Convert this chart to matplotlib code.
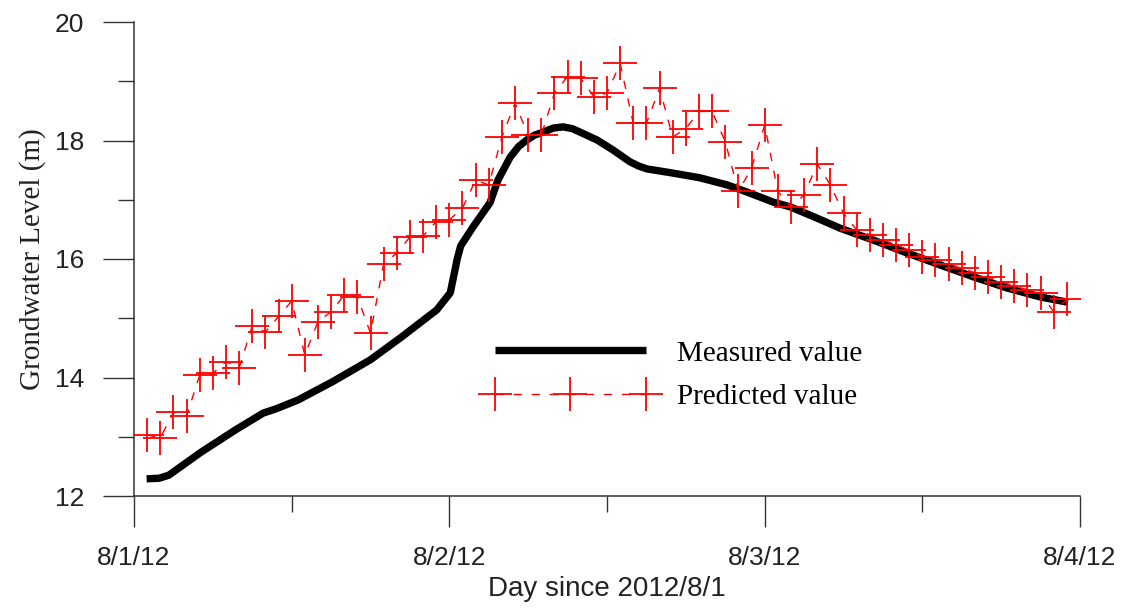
import numpy as np
import matplotlib
matplotlib.use("Agg")
import matplotlib.pyplot as plt
from matplotlib.ticker import MultipleLocator, FixedLocator

# Measured groundwater level (day since 8/1, metres)
measuredDays = [0.04, 0.08, 0.11, 0.21, 0.32, 0.41, 0.45, 0.52, 0.63, 0.75, 0.85, 0.96,
                1.003, 1.025, 1.036, 1.075, 1.129, 1.154, 1.193, 1.22, 1.246, 1.27, 1.297,
                1.33, 1.361, 1.39, 1.415, 1.468, 1.519, 1.573, 1.60, 1.627, 1.709, 1.795,
                1.881, 1.944, 2.027, 2.081, 2.166, 2.239, 2.344, 2.452, 2.556, 2.661,
                2.769, 2.873, 2.962]
measuredLevel = [12.29, 12.30, 12.35, 12.73, 13.11, 13.40, 13.47, 13.62, 13.93, 14.30, 14.69, 15.14,
                 15.43, 16.00, 16.22, 16.54, 16.95, 17.33, 17.72, 17.90, 18.01, 18.09, 18.14,
                 18.21, 18.23, 18.20, 18.14, 18.01, 17.84, 17.64, 17.57, 17.52, 17.45, 17.37,
                 17.25, 17.13, 16.96, 16.88, 16.69, 16.52, 16.32, 16.10, 15.90, 15.70,
                 15.51, 15.36, 15.27]

# Predicted values, one per hour (hours 1..71)
predictedHours = list(range(1, 72))
predictedLevel = [13.03, 12.98, 13.41, 13.35, 14.04, 14.07, 14.27, 14.16, 14.87, 14.77,
                  15.03, 15.29, 14.38, 14.94, 15.11, 15.39, 15.36, 14.75, 15.92, 16.10,
                  16.37, 16.39, 16.63, 16.66, 16.86, 17.33, 17.25, 18.06, 18.63, 18.09,
                  18.09, 18.80, 19.08, 19.05, 18.74, 18.80, 19.30, 18.29, 18.29, 18.88,
                  18.06, 18.20, 18.49, 18.49, 17.98, 17.14, 17.53, 18.26, 17.14, 16.88,
                  17.08, 17.60, 17.25, 16.77, 16.49, 16.41, 16.32, 16.24, 16.15, 16.04,
                  15.99, 15.92, 15.84, 15.77, 15.70, 15.62, 15.54, 15.48, 15.42, 15.11,
                  15.32]

xTickLabels = ["8/1/12", "8/2/12", "8/3/12", "8/4/12"]

sansFont = ["Liberation Sans", "DejaVu Sans"]
serifFont = ["Liberation Serif", "DejaVu Serif"]

fig = plt.figure(figsize=(11.25, 6.08), dpi=100)
ax = fig.add_axes([134 / 1125, 1 - 496 / 608, (1080 - 134) / 1125, (496 - 22) / 608])

predDays = np.array(predictedHours) / 24.0
ax.plot(predDays, predictedLevel, color="red", linestyle=(0, (6, 7)), linewidth=1.0,
        marker="+", markersize=24, markeredgewidth=1.3, label="Predicted value", zorder=3)
ax.plot(measuredDays, measuredLevel, color="black", linewidth=5.3,
        solid_capstyle="butt", solid_joinstyle="round", label="Measured value", zorder=2)

ax.set_xlim(0, 3)
ax.set_ylim(12, 20)
ax.xaxis.set_major_locator(FixedLocator(range(len(xTickLabels))))
ax.set_xticklabels(xTickLabels)
ax.xaxis.set_minor_locator(MultipleLocator(0.5))
ax.yaxis.set_major_locator(MultipleLocator(2))
ax.yaxis.set_minor_locator(MultipleLocator(1))

for side in ["top", "right"]:
    ax.spines[side].set_visible(False)
for side in ["left", "bottom"]:
    ax.spines[side].set_linewidth(1.1)
    ax.spines[side].set_color("#333333")

ax.tick_params(which="major", direction="out", length=22, width=1.0, color="#333333", pad=14)
ax.tick_params(which="minor", direction="out", length=11.5, width=1.0, color="#333333")
for lbl in ax.get_xticklabels() + ax.get_yticklabels():
    lbl.set_family(sansFont)
    lbl.set_fontsize(19)
    lbl.set_color("#222222")

ax.set_xlabel("Day since 2012/8/1", family=sansFont, fontsize=20, color="#222222", labelpad=4)
ax.set_ylabel("Grondwater Level (m)", family=serifFont, fontsize=21, color="#222222", labelpad=6)

handles, labels = ax.get_legend_handles_labels()
leg = ax.legend(handles[::-1], labels[::-1], loc="center left", bbox_to_anchor=(0.372, 0.255),
                frameon=False, numpoints=3, handlelength=5.8, handletextpad=0.75,
                labelspacing=0.58, borderpad=0, borderaxespad=0,
                prop={"family": serifFont, "size": 21})

fig.savefig("out.png", dpi=100)
